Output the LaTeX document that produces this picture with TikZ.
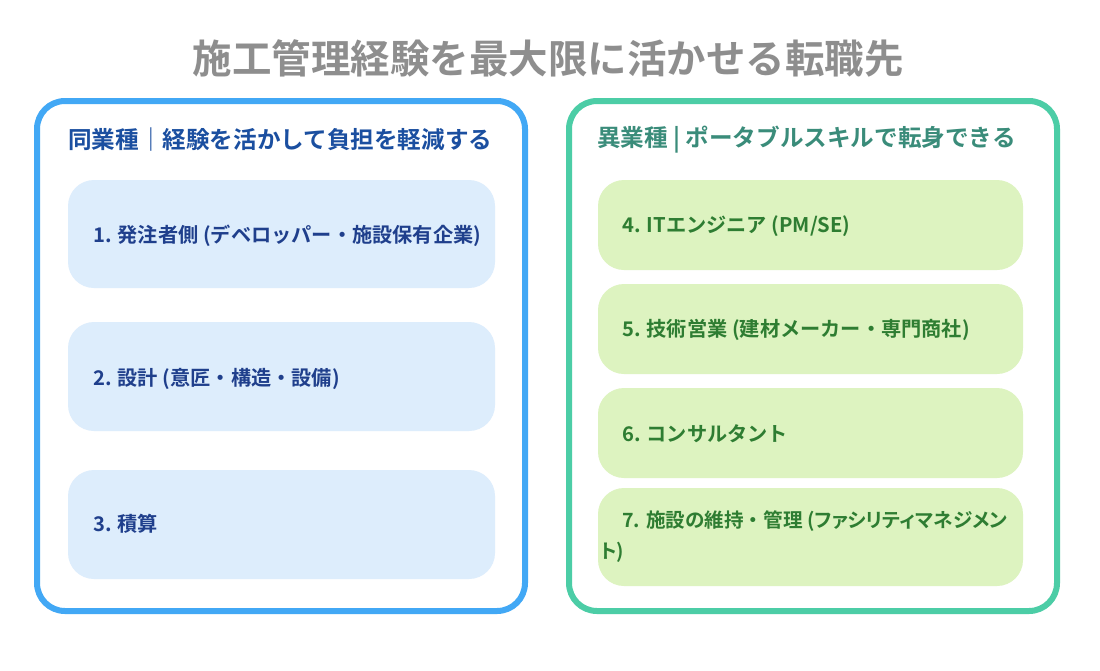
\documentclass[tikz,border=0pt]{standalone}
\usepackage{fontspec}
\setmainfont{Noto Sans CJK JP}[BoldFont=* Bold]
\newfontfamily\jpprop{Noto Sans CJK JP}[BoldFont=* Bold, RawFeature=+palt]
\definecolor{titlegray}{HTML}{8E8E8E}
\definecolor{lborder}{HTML}{42A8F5}
\definecolor{lfill}{HTML}{DDEDFC}
\definecolor{ltext}{HTML}{1F3F8C}
\definecolor{lhead}{HTML}{1B4FA0}
\definecolor{rborder}{HTML}{4CCDA6}
\definecolor{rfill}{HTML}{DDF3C0}
\definecolor{rtext}{HTML}{2E7D32}
\definecolor{rhead}{HTML}{3A8C7A}
\tikzset{
  panel/.style={draw, line width=6pt, rounded corners=28pt, fill=white, inner sep=0pt},
  lbox/.style={fill=lfill, rounded corners=26pt, inner sep=0pt, minimum width=427pt},
  rbox/.style={fill=rfill, rounded corners=26pt, inner sep=0pt, minimum width=425pt, minimum height=90pt},
  ltxt/.style={text=ltext, font=\fontsize{20.2}{24}\selectfont\bfseries, inner sep=0pt, anchor=west},
  rtxt/.style={text=rtext, font=\fontsize{20.2}{24}\selectfont\bfseries, inner sep=0pt, anchor=west},
  headtxt/.style={font=\fontsize{23.6}{28}\selectfont\bfseries, inner sep=0pt, anchor=west},
}
\begin{document}
\begin{tikzpicture}[x=1pt,y=-1pt]
\useasboundingbox (0,0) rectangle (1100,670);
\fill[white] (0,0) rectangle (1100,670);
\node[text=titlegray, font=\fontsize{39.5}{46}\selectfont\bfseries, inner sep=0pt] (title) at (548,58) {施工管理経験を最大限に活かせる転職先};

% left panel
\node[panel, draw=lborder, minimum width=488pt, minimum height=510pt] (lp) at (281,356) {};
\node[headtxt, text=lhead] (lh) at (68,140) {同業種｜経験を活かして負担を軽減する};
\node[lbox, minimum height=108pt] (b1) at (281.5,234) {};
\node[lbox, minimum height=109pt] (b2) at (281.5,376.5) {};
\node[lbox, minimum height=109pt] (b3) at (281.5,524.5) {};
\node[ltxt] (t1) at (93,236) {1. 発注者側 (デベロッパー・施設保有企業)};
\node[ltxt] (t2) at (93,379) {2. 設計 (意匠・構造・設備)};
\node[ltxt] (t3) at (93,524) {3. 積算};

% right panel
\node[panel, draw=rborder, minimum width=488pt, minimum height=510pt] (rp) at (813,356) {};
\node[headtxt, text=rhead] (rh) at (597,140) {異業種 | ポータブルスキルで転身できる};
\node[rbox] (b4) at (810.5,225) {};
\node[rbox] (b5) at (810.5,329) {};
\node[rbox] (b6) at (810.5,433) {};
\node[rbox, minimum height=98pt] (b7) at (810.5,537) {};
\node[rtxt] (t4) at (622,226) {4. ITエンジニア (PM/SE)};
\node[rtxt] (t5) at (622,330) {5. 技術営業 (建材メーカー・専門商社)};
\node[rtxt] (t6) at (622,434) {6. コンサルタント};
\node[rtxt, font=\jpprop\fontsize{19.6}{31}\selectfont\bfseries, align=left] (t7) at (600,536.5) {\hspace*{22pt}7. 施設の維持{\rmfamily ・}管理 (ファシリティマネジメン\\ト)};
\end{tikzpicture}
\end{document}
